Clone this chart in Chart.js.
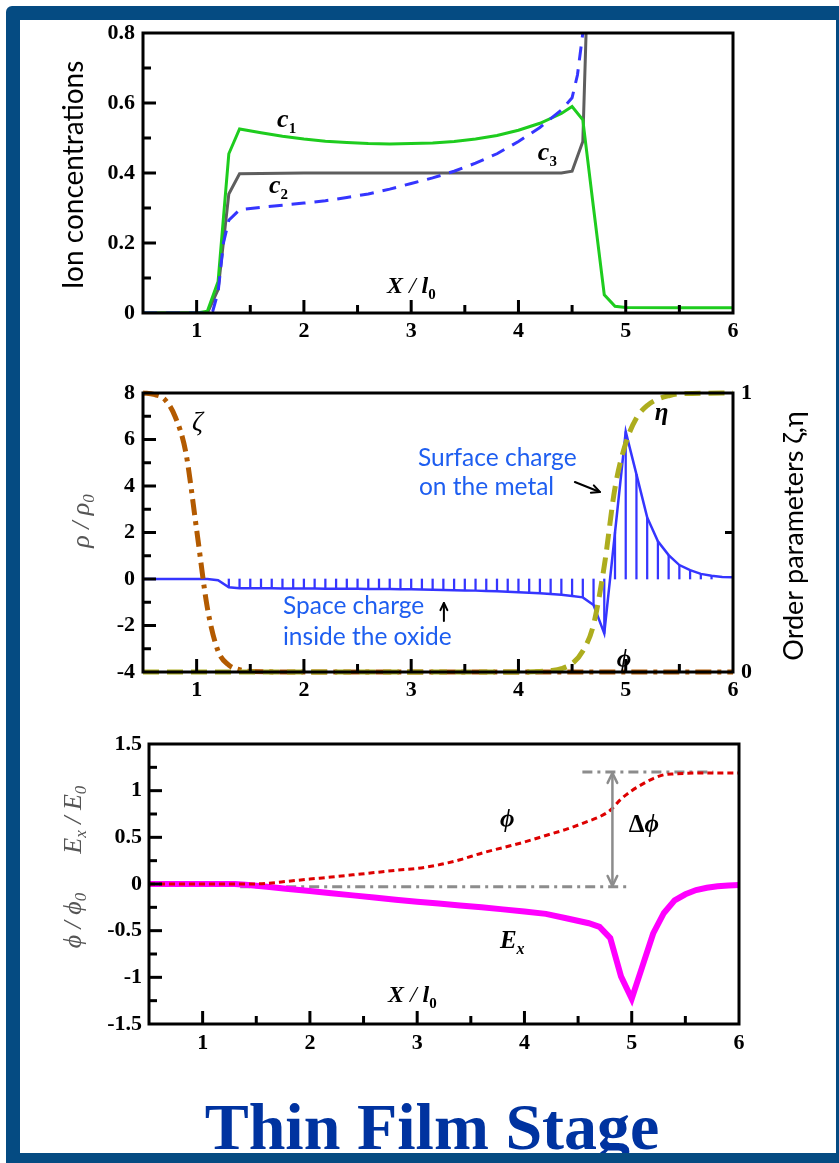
<!DOCTYPE html>
<html><head><meta charset="utf-8">
<script src="https://cdn.jsdelivr.net/npm/chart.js@4"></script>
<style>
html,body{margin:0;padding:0;background:#fff;overflow:hidden;width:839px;height:1163px;position:relative}
canvas{position:absolute;left:0}
#frame{position:absolute;left:6px;top:6px;width:816px;height:1133px;border:14px solid #054B82;border-radius:6px 0 0 0;z-index:5;pointer-events:none}
#title{position:absolute;left:0;width:864px;top:1094px;text-align:center;font:bold 66px "Liberation Serif";line-height:66px;color:#0033A0;z-index:2;white-space:nowrap}
</style></head>
<body>
<canvas id="c1" width="839" height="345" style="top:0px"></canvas>
<canvas id="c2" width="839" height="345" style="top:360px"></canvas>
<canvas id="c3" width="839" height="345" style="top:715px"></canvas>
<div id="title">Thin Film Stage</div>
<div id="frame"></div>
<script>
// ---------------- DATA ----------------
// Panel 1: ion concentrations
const c1X = [0.5, 1.0, 1.1, 1.2, 1.3, 1.4, 1.6, 1.8, 2.0, 2.2, 2.4, 2.6, 2.8, 3.0, 3.2, 3.4, 3.6, 3.8, 4.0, 4.2, 4.4, 4.5, 4.6, 4.7, 4.8, 4.9, 5.0, 5.5, 6.0];
const c1Y = [0, 0, 0.005, 0.09, 0.455, 0.526, 0.515, 0.505, 0.497, 0.491, 0.487, 0.484, 0.483, 0.484, 0.486, 0.490, 0.497, 0.507, 0.522, 0.542, 0.570, 0.590, 0.552, 0.30, 0.052, 0.019, 0.016, 0.015, 0.015];
const c2X = [0.5, 1.1, 1.15, 1.2, 1.25, 1.3, 1.4, 1.6, 1.8, 2.0, 2.2, 2.4, 2.6, 2.8, 3.0, 3.2, 3.4, 3.6, 3.8, 4.0, 4.2, 4.4, 4.5, 4.55, 4.6, 4.62];
const c2Y = [0, 0, 0.005, 0.06, 0.2, 0.265, 0.295, 0.302, 0.308, 0.314, 0.321, 0.33, 0.34, 0.354, 0.37, 0.386, 0.405, 0.428, 0.455, 0.49, 0.53, 0.58, 0.615, 0.68, 0.80, 0.9];
const c3X = [0.5, 1.1, 1.2, 1.3, 1.4, 2.0, 3.0, 4.0, 4.4, 4.5, 4.6, 4.65];
const c3Y = [0, 0, 0.067, 0.34, 0.398, 0.40, 0.40, 0.40, 0.40, 0.405, 0.49, 1.0];

// Panel 2: charge density and order parameters
const rhoX = [0.5,0.6,0.7,0.8,0.9,1.0,1.1,1.2,1.3,1.4,1.5,1.6,1.7,1.8,1.9,2.0,2.1,2.2,2.3,2.4,2.5,2.6,2.7,2.8,2.9,3.0,3.1,3.2,3.3,3.4,3.5,3.6,3.7,3.8,3.9,4.0,4.1,4.2,4.3,4.4,4.5,4.6,4.7,4.8,4.9,5.0,5.1,5.2,5.3,5.4,5.5,5.6,5.7,5.8,5.9,6.0];
const rhoY = [0,0,0,0,0,0,0,-0.05,-0.36,-0.40,-0.40,-0.40,-0.40,-0.41,-0.41,-0.41,-0.41,-0.42,-0.42,-0.42,-0.42,-0.43,-0.43,-0.43,-0.44,-0.44,-0.45,-0.46,-0.47,-0.48,-0.49,-0.50,-0.52,-0.53,-0.55,-0.57,-0.59,-0.61,-0.64,-0.68,-0.73,-0.79,-1.12,-2.34,2.0,6.34,4.5,2.65,1.62,1.03,0.6,0.38,0.22,0.14,0.09,0.07];
const hatchRange = [1.3, 5.8];
const zetaX = [0.5, 0.6, 0.7, 0.8, 0.9, 1.0, 1.1, 1.2, 1.3, 1.4, 1.5, 2.0, 3.0, 4.0, 5.0, 6.0];
const zetaY = [1.0, 0.995, 0.978, 0.915, 0.785, 0.51, 0.23, 0.075, 0.025, 0.008, 0.002, 0, 0, 0, 0, 0];
const etaX = [0.5, 4.0, 4.2, 4.3, 4.4, 4.5, 4.6, 4.7, 4.8, 4.9, 5.0, 5.1, 5.2, 5.3, 5.4, 5.5, 6.0];
const etaY = [0, 0, 0.002, 0.005, 0.012, 0.03, 0.075, 0.17, 0.38, 0.66, 0.82, 0.91, 0.955, 0.978, 0.99, 0.997, 1.0];

// Panel 3: potential and field
const phiX = [0.5, 1.0, 1.4, 1.6, 1.8, 2.0, 2.2, 2.4, 2.6, 2.8, 3.0, 3.2, 3.4, 3.6, 3.8, 4.0, 4.2, 4.4, 4.6, 4.7, 4.8, 4.9, 5.0, 5.1, 5.2, 5.3, 5.4, 5.5, 5.6, 6.0];
const phiY = [0, 0, 0, 0.007, 0.03, 0.053, 0.074, 0.098, 0.122, 0.147, 0.167, 0.205, 0.26, 0.33, 0.39, 0.45, 0.52, 0.59, 0.675, 0.72, 0.79, 0.91, 1.0, 1.07, 1.13, 1.17, 1.18, 1.186, 1.19, 1.19];
const exX = [0.5, 1.0, 1.3, 1.4, 1.6, 1.8, 2.0, 2.2, 2.4, 2.6, 2.8, 3.0, 3.2, 3.4, 3.6, 3.8, 4.0, 4.2, 4.4, 4.6, 4.7, 4.8, 4.9, 5.0, 5.1, 5.2, 5.3, 5.4, 5.5, 5.6, 5.7, 5.8, 5.9, 6.0];
const exY = [0, 0, 0, -0.008, -0.03, -0.053, -0.075, -0.1, -0.122, -0.145, -0.168, -0.19, -0.21, -0.23, -0.25, -0.272, -0.295, -0.32, -0.37, -0.42, -0.46, -0.58, -0.99, -1.23, -0.88, -0.53, -0.31, -0.175, -0.11, -0.065, -0.04, -0.025, -0.015, -0.01];
const guideLowX = [1.35, 4.98], guideLowY = [-0.03, -0.03];
const guideHighX = [4.54, 5.76], guideHighY = [1.2, 1.2];
const deltaPhiX = 4.82, deltaPhiY = [1.19, -0.02];

// tick settings
const xTicks = {min: 0.5, max: 6, step: 0.5, label: 1};
const y1Ticks = {min: 0, max: 0.8, step: 0.1, label: 0.2};
const y2Ticks = {min: -4, max: 8, step: 1, label: 2};
const y2rTicks = {min: 0, max: 1, step: 0.5, label: 1};
const y3Ticks = {min: -1.5, max: 1.5, step: 0.25, label: 0.5};

// ---------------- HELPERS ----------------
const pts = (xs, ys) => xs.map((x, i) => ({x, y: ys[i]}));
const near = (a, b) => Math.abs(a - b) < 1e-6;
const isMult = (v, m) => near(v / m, Math.round(v / m));
const fmt = v => String(Math.round(v * 100) / 100);
const tickFont = {family: 'Liberation Serif', size: 22, weight: 'bold'};
const BI = s => 'bold italic ' + s + 'px "Liberation Serif"';
const B = s => 'bold ' + s + 'px "Liberation Serif"';
const I = s => 'italic ' + s + 'px "Liberation Serif"';
const SANS = s => s + 'px Lato, "Noto Sans", sans-serif';

function xAxis(h, pad) {
  return {type: 'linear', min: xTicks.min, max: xTicks.max, offset: false,
    grid: {display: false, drawTicks: false, tickLength: 0}, border: {display: false},
    ticks: {stepSize: xTicks.step, autoSkip: false, maxRotation: 0, minRotation: 0, padding: pad, color: '#000', font: tickFont,
      callback: v => isMult(v, xTicks.label) ? fmt(v) : ''},
    afterFit: s => { s.height = h; }};
}
function yAxis(t, w, pos, pad) {
  return {type: 'linear', position: pos, min: t.min, max: t.max,
    grid: {display: false, drawTicks: false, tickLength: 0}, border: {display: false},
    ticks: {stepSize: t.step, autoSkip: false, padding: pad, color: '#000', font: tickFont,
      callback: v => isMult(v, t.label) ? fmt(v) : ''},
    afterFit: s => { s.width = w; }};
}
function drawRich(ctx, segs, x, y, o) {
  o = o || {};
  ctx.save();
  ctx.translate(x, y);
  if (o.rot) ctx.rotate(o.rot);
  let total = 0;
  const ws = segs.map(s => { ctx.font = s[1]; const w = ctx.measureText(s[0]).width; total += w; return w; });
  let cx = o.align === 'center' ? -total / 2 : 0;
  ctx.fillStyle = o.color || '#000';
  ctx.textAlign = 'left'; ctx.textBaseline = 'alphabetic';
  segs.forEach((s, i) => { ctx.font = s[1]; ctx.fillText(s[0], cx, s[2] || 0); cx += ws[i]; });
  ctx.restore();
}
function arrow(ctx, x1, y1, x2, y2, o) {
  ctx.save();
  ctx.strokeStyle = o.color; ctx.lineWidth = o.width; ctx.lineCap = 'round'; ctx.lineJoin = 'round';
  ctx.beginPath(); ctx.moveTo(x1, y1); ctx.lineTo(x2, y2); ctx.stroke();
  const head = (xa, ya, xb, yb) => {
    const ang = Math.atan2(yb - ya, xb - xa), L = o.head, s = 0.45;
    ctx.beginPath();
    ctx.moveTo(xb - L * Math.cos(ang - s), yb - L * Math.sin(ang - s));
    ctx.lineTo(xb, yb);
    ctx.lineTo(xb - L * Math.cos(ang + s), yb - L * Math.sin(ang + s));
    ctx.stroke();
  };
  head(x1, y1, x2, y2);
  if (o.both) head(x2, y2, x1, y1);
  ctx.restore();
}
function makeDeco(cfg) {
  return {
    id: 'deco',
    afterDatasetsDraw(chart) {
      const ctx = chart.ctx, a = chart.chartArea;
      ctx.save();
      ctx.strokeStyle = '#000'; ctx.lineWidth = 3; ctx.lineCap = 'butt';
      (cfg.ticks || []).forEach(tk => {
        const sc = chart.scales[tk.scale];
        sc.ticks.forEach(t => {
          const v = t.value;
          if (near(v, sc.min) || near(v, sc.max)) return;
          if (!isMult(v, tk.minor)) return;
          const len = isMult(v, tk.major) ? 13 : 8;
          const p = sc.getPixelForValue(v);
          ctx.beginPath();
          if (tk.side === 'bottom') { ctx.moveTo(p, a.bottom); ctx.lineTo(p, a.bottom - len); }
          else if (tk.side === 'left') { ctx.moveTo(a.left, p); ctx.lineTo(a.left + len, p); }
          else { ctx.moveTo(a.right, p); ctx.lineTo(a.right - len, p); }
          ctx.stroke();
        });
      });
      ctx.lineJoin = 'miter';
      ctx.strokeRect(a.left, a.top, a.right - a.left, a.bottom - a.top);
      ctx.restore();
    },
    afterDraw(chart) {
      const ctx = chart.ctx, xs = chart.scales.x;
      (cfg.arrows || []).forEach(ar => {
        const ys = chart.scales[ar.axis || 'y'];
        arrow(ctx, xs.getPixelForValue(ar.x1), ys.getPixelForValue(ar.y1), xs.getPixelForValue(ar.x2), ys.getPixelForValue(ar.y2), ar);
      });
      (cfg.labels || []).forEach(lb => {
        const ys = chart.scales[lb.axis || 'y'];
        drawRich(ctx, lb.segs, xs.getPixelForValue(lb.x), ys.getPixelForValue(lb.y), {color: lb.color});
      });
      (cfg.titles || []).forEach(tt => drawRich(ctx, tt.segs, tt.px, tt.py, {rot: -Math.PI / 2, align: 'center', color: tt.color}));
    }
  };
}
const line = (label, xs, ys, color, width, dash, extra) => Object.assign({
  type: 'line', label, data: pts(xs, ys), borderColor: color, backgroundColor: color, borderWidth: width,
  borderDash: dash || [], pointRadius: 0, tension: 0, fill: false, clip: 0
}, extra || {});
const baseOpts = (pad, scales) => ({
  responsive: false, animation: false, devicePixelRatio: 1,
  layout: {padding: pad},
  plugins: {legend: {display: false}, tooltip: {enabled: false}, title: {display: false}},
  scales
});

// ---------------- CHART 1 ----------------
new Chart(document.getElementById('c1'), {
  type: 'line',
  data: {datasets: [
    line('c2', c2X, c2Y, '#3535FF', 3, [14, 9]),
    line('c1', c1X, c1Y, '#1ECC1E', 3),
    line('c3', c3X, c3Y, '#5E5E5E', 3)
  ]},
  options: baseOpts({left: 0, top: 33, right: 106, bottom: 0}, {x: xAxis(32, 5), y: yAxis(y1Ticks, 143, 'left', 8)}),
  plugins: [makeDeco({
    ticks: [{scale: 'x', side: 'bottom', major: 1, minor: 0.5}, {scale: 'y', side: 'left', major: 0.2, minor: 0.1}],
    labels: [
      {x: 1.75, y: 0.531, segs: [['c', BI(26)], ['1', B(15), 6]]},
      {x: 1.674, y: 0.343, segs: [['c', BI(26)], ['2', B(15), 6]]},
      {x: 4.181, y: 0.437, segs: [['c', BI(26)], ['3', B(15), 6]]},
      {x: 2.774, y: 0.057, segs: [['X', BI(24)], [' / ', I(24)], ['l', BI(24)], ['0', B(15), 6]]}
    ],
    titles: [{px: 83, py: 175, segs: [['Ion concentrations', SANS(28)]], color: '#000'}]
  })]
});

// ---------------- CHART 2 ----------------
const hatch = pts(rhoX, rhoY).filter(p => p.x >= hatchRange[0] - 1e-9 && p.x <= hatchRange[1] + 1e-9);
new Chart(document.getElementById('c2'), {
  type: 'line',
  data: {datasets: [
    line('eta', etaX, etaY, '#ADAD1E', 5, [16, 8], {yAxisID: 'y2', cubicInterpolationMode: 'monotone', clip: 3}),
    line('zeta', zetaX, zetaY, '#B35A00', 5, [16, 6, 4, 6], {yAxisID: 'y2', cubicInterpolationMode: 'monotone', clip: 3}),
    line('rho', rhoX, rhoY, '#3535FF', 2.5, [], {yAxisID: 'y'}),
    {type: 'bar', label: 'hatch', data: hatch, backgroundColor: '#3535FF', borderWidth: 0, barThickness: 1.6, yAxisID: 'y', grouped: false}
  ]},
  options: baseOpts({left: 0, top: 33, right: 0, bottom: 0}, {
    x: xAxis(33, 5),
    y: yAxis(y2Ticks, 143, 'left', 8),
    y2: yAxis(y2rTicks, 106, 'right', 8)
  }),
  plugins: [makeDeco({
    ticks: [{scale: 'x', side: 'bottom', major: 1, minor: 0.5}, {scale: 'y', side: 'left', major: 2, minor: 1},
            {scale: 'y2', side: 'right', major: 1, minor: 0.5}],
    arrows: [
      {x1: 4.526, y1: 4.17, x2: 4.759, y2: 3.74, color: '#000', width: 2, head: 9},
      {x1: 3.305, y1: -1.81, x2: 3.305, y2: -1.03, color: '#000', width: 2, head: 8}
    ],
    labels: [
      {x: 0.957, y: 6.41, segs: [['ζ', I(27)]]},
      {x: 5.27, y: 6.84, segs: [['η', BI(25)]]},
      {x: 4.917, y: -3.78, segs: [['ϕ', BI(25)]]},
      {x: 3.063, y: 4.86, color: '#1E5EF0', segs: [['Surface charge', SANS(24.5)]]},
      {x: 3.072, y: 3.61, color: '#1E5EF0', segs: [['on the metal', SANS(24.5)]]},
      {x: 1.805, y: -1.505, color: '#1E5EF0', segs: [['Space charge', SANS(24.5)]]},
      {x: 1.805, y: -2.84, color: '#1E5EF0', segs: [['inside the oxide', SANS(24.5)]]}
    ],
    titles: [
      {px: 89, py: 161, color: '#555', segs: [['ρ / ρ', I(26)], ['0', I(17), 5]]},
      {px: 803, py: 176, color: '#000', segs: [['Order parameters ζ,η', SANS(27)]]}
    ]
  })]
});

// ---------------- CHART 3 ----------------
new Chart(document.getElementById('c3'), {
  type: 'line',
  data: {datasets: [
    line('phi', phiX, phiY, '#DD0000', 3, [6, 4], {cubicInterpolationMode: 'monotone'}),
    line('Ex', exX, exY, '#FF00FF', 6, [], {clip: 4}),
    line('low', guideLowX, guideLowY, '#8C8C8C', 3, [10, 5, 3, 5]),
    line('high', guideHighX, guideHighY, '#8C8C8C', 3, [10, 5, 3, 5])
  ]},
  options: baseOpts({left: 0, top: 29, right: 100, bottom: 0}, {x: xAxis(36, 6), y: yAxis(y3Ticks, 149, 'left', 7)}),
  plugins: [makeDeco({
    ticks: [{scale: 'x', side: 'bottom', major: 1, minor: 0.5}, {scale: 'y', side: 'left', major: 0.5, minor: 0.25}],
    arrows: [{x1: deltaPhiX, y1: deltaPhiY[0], x2: deltaPhiX, y2: deltaPhiY[1], color: '#8C8C8C', width: 2.5, head: 11, both: true}],
    labels: [
      {x: 3.771, y: 0.611, segs: [['ϕ', BI(25)]]},
      {x: 4.973, y: 0.557, segs: [['Δ', B(25)], ['ϕ', BI(25)]]},
      {x: 3.771, y: -0.686, segs: [['E', BI(25)], ['x', BI(16), 6]]},
      {x: 2.727, y: -1.264, segs: [['X', BI(24)], [' / ', I(24)], ['l', BI(24)], ['0', B(15), 6]]}
    ],
    titles: [{px: 81, py: 152, color: '#555', segs: [['ϕ / ϕ', I(26)], ['0', I(17), 5], ['      E', I(26)], ['x', I(17), 5], [' / E', I(26)], ['0', I(17), 5]]}]
  })]
});
</script>
</body></html>
